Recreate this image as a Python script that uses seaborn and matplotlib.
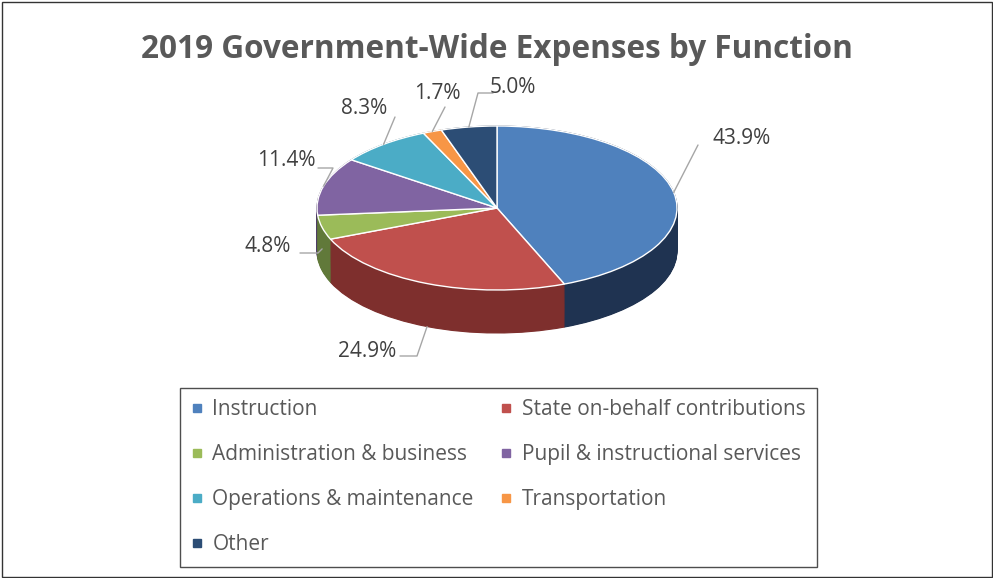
import numpy as np
import matplotlib
matplotlib.use("Agg")
import matplotlib.pyplot as plt
import seaborn as sns
from matplotlib.lines import Line2D
from matplotlib.patches import Rectangle, Polygon
import matplotlib.colors as mcolors

# ---------------- data ----------------
categories = ["Instruction", "State on-behalf contributions", "Administration & business",
              "Pupil & instructional services", "Operations & maintenance", "Transportation", "Other"]
values = [43.9, 24.9, 4.8, 11.4, 8.3, 1.7, 5.0]
pct_labels = ["43.9%", "24.9%", "4.8%", "11.4%", "8.3%", "1.7%", "5.0%"]
title = "2019 Government-Wide Expenses by Function"

# ---------------- style ----------------
colors = ["#4F81BD", "#C0504D", "#9BBB59", "#8064A2", "#4BACC6", "#F79646", "#2C4D75"]
side_colors = ["#1F3351", "#7E2F2D", "#61793A", "#4E3D66", "#2E6F80", "#A05F2A", "#1A2F48"]

sns.set_theme(style="white")
plt.rcParams['font.family'] = ['Open Sans', 'DejaVu Sans']

W, H = 993, 578
CX, CY_TOP, RX, RY = 497, 208, 180, 82   # pie centre / radii in pixels
DEPTH = 43 / RY                           # pie thickness in data units

def P(x, y):
    """pixel (from top-left) -> data coords"""
    return ((x - CX) / RX, (CY_TOP - y) / RY)

fig = plt.figure(figsize=(W / 100, H / 100), dpi=100)
ax = fig.add_axes([0, 0, 1, 1])

# side of the 3-D pie: stacked layers
for k in np.linspace(DEPTH, 0.0, 45):
    wedges, _ = ax.pie(values, colors=side_colors, startangle=90, counterclock=False,
                       center=(0, -k), radius=1.0)
    for w in wedges:
        w.set_edgecolor(w.get_facecolor())
        w.set_linewidth(0.8)

# geometry of the wedges (to place gradient / labels)
top_wedges, _ = ax.pie(values, colors=colors, startangle=90, counterclock=False,
                       center=(0, 0), radius=1.0)
for w in top_wedges:
    w.remove()

w1 = top_wedges[1]
t = np.radians(np.linspace(max(w1.theta1, 180), min(w1.theta2, 360), 100))
band = np.vstack([np.c_[np.cos(t), np.sin(t)], np.c_[np.cos(t[::-1]), np.sin(t[::-1]) - DEPTH]])
poly = Polygon(band, closed=True, facecolor="none", edgecolor="none")
ax.add_patch(poly)
cmap = mcolors.LinearSegmentedColormap.from_list("side", ["#A84543", "#8A3533", "#4C1B1A"])
grad = np.linspace(0, 1, 256).reshape(1, -1)
im = ax.imshow(grad, cmap=cmap, aspect="auto",
               extent=(np.cos(t).min(), np.cos(t).max(), np.sin(t).min() - DEPTH, 0))
im.set_clip_path(poly)

# white separators on the side
for ang in [w1.theta1, w1.theta2]:
    if 180 <= ang <= 360:
        a = np.radians(ang)
        ax.plot([np.cos(a), np.cos(a)], [np.sin(a), np.sin(a) - DEPTH], color="white", lw=1.0)

# top face
top_wedges, _ = ax.pie(values, colors=colors, startangle=90, counterclock=False,
                       center=(0, 0), radius=1.0,
                       wedgeprops=dict(edgecolor="white", linewidth=1.0))

# ---------------- labels with leader lines ----------------
label_pos = [(742, 138), (367, 351), (268, 246), (286, 160), (364, 108), (437, 93), (513, 87)]
line_start = [(698, 145), (400, 356), (300, 253), (318, 168), (395, 117), (445, 107), (493, 93)]
line_elbow = [None, (417, 356), (318, 253), (333, 168), None, None, (478, 93)]
anchor_drop = [0.0, 1.0, 0.5, 0.0, 0.0, 0.0, 0.0]

for i, w in enumerate(top_wedges):
    mid = np.radians((w.theta1 + w.theta2) / 2)
    ax_pt = (np.cos(mid), np.sin(mid) - anchor_drop[i] * DEPTH)
    pts = [P(*line_start[i])]
    if line_elbow[i] is not None:
        pts.append(P(*line_elbow[i]))
    pts.append(ax_pt)
    xs, ys = zip(*pts)
    ax.plot(xs, ys, color="#A6A6A6", lw=1.0)
    ax.text(*P(*label_pos[i]), pct_labels[i], ha="center", va="center",
            fontsize=15, color="#404040")

ax.set_aspect("auto")
ax.set_xlim((0 - CX) / RX, (W - CX) / RX)
ax.set_ylim((CY_TOP - H) / RY, CY_TOP / RY)
ax.axis("off")

# ---------------- title ----------------
fig.text(497 / W, 1 - 50 / H, title, ha="center", va="center", fontsize=22.7,
         fontweight="bold", color="#595959")

# ---------------- legend ----------------
order = [0, 2, 4, 6, 1, 3, 5]
handles = [Line2D([], [], marker="s", linestyle="", markersize=6, color=colors[i]) for i in order]
leg = fig.legend(handles, [categories[i] for i in order], ncol=2, loc="upper left",
                 bbox_to_anchor=(180 / W, 1 - 565 / H, (817 - 180) / W, (565 - 388) / H),
                 mode="expand", frameon=True, fancybox=False, edgecolor="#222222",
                 handlelength=0.5, handletextpad=0.5, labelspacing=1.15, fontsize=15,
                 borderaxespad=0, borderpad=0.55, columnspacing=0.5)
leg.get_frame().set_linewidth(1.0)
for txt in leg.get_texts():
    txt.set_color("#595959")

# outer border
fig.patches.append(Rectangle((1.5 / W, 1.5 / H), (W - 3) / W, (H - 3) / H, transform=fig.transFigure,
                             fill=False, edgecolor="#333333", lw=1.0))

fig.savefig("out.png", dpi=100)
